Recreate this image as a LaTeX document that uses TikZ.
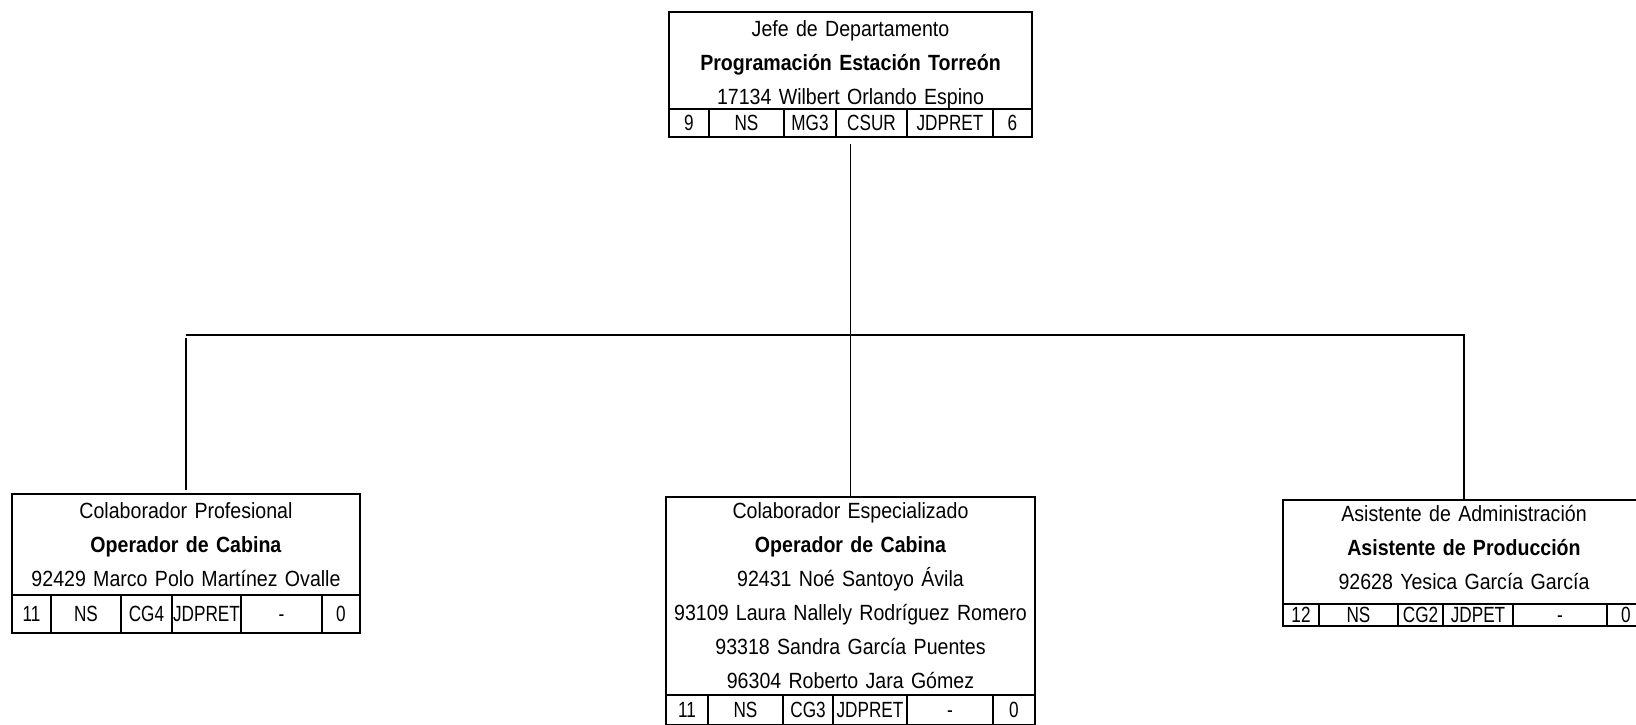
\documentclass[tikz,border=0pt]{standalone}
\usepackage{fontspec}
\setmainfont[FakeStretch=0.89]{Liberation Sans}
\newfontfamily\cellfont[FakeStretch=0.78]{Liberation Sans}
\usetikzlibrary{positioning}

\begin{document}
\begin{tikzpicture}[
  x=1pt, y=-1pt,
  font=\fontsize{22pt}{34pt}\selectfont,
  post/.style={draw,line width=1.5pt,align=center,inner sep=0pt,outer sep=0pt,anchor=north west},
  cell/.style={draw,line width=1.5pt,inner sep=0pt,outer sep=0pt,minimum height=#1,text height=16pt,text depth=2pt,font=\cellfont\fontsize{22pt}{24pt}\selectfont},
  link/.style={line width=1.6pt},
]
\useasboundingbox (0,0) rectangle (1636,724);
\clip (0,0) rectangle (1636,724);

% jefe de departamento
\node[post,text width=363pt,minimum height=97pt] (jefe) at (669,12)
  {\rule{0pt}{24pt}Jefe de Departamento\\\textbf{Programación Estación Torreón}\\17134 Wilbert Orlando Espino};
\node[cell=28pt,minimum width=40pt,below right=0pt of jefe.south west] (jefe1) {9};
\node[cell=28pt,minimum width=75pt,right=0pt of jefe1] (jefe2) {NS};
\node[cell=28pt,minimum width=52pt,right=0pt of jefe2] (jefe3) {MG3};
\node[cell=28pt,minimum width=71pt,right=0pt of jefe3] (jefe4) {CSUR};
\node[cell=28pt,minimum width=86pt,right=0pt of jefe4] (jefe5) {JDPRET};
\node[cell=28pt,minimum width=39pt,right=0pt of jefe5] (jefe6) {6};

% colaborador profesional
\node[post,text width=348pt,minimum height=101pt] (profesional) at (12,494)
  {Colaborador Profesional\\\textbf{Operador de Cabina}\\92429 Marco Polo Martínez Ovalle};
\node[cell=38pt,minimum width=39pt,below right=0pt of profesional.south west] (prof1) {11};
\node[cell=38pt,minimum width=70pt,right=0pt of prof1] (prof2) {NS};
\node[cell=38pt,minimum width=51pt,right=0pt of prof2] (prof3) {CG4};
\node[cell=38pt,minimum width=69pt,right=0pt of prof3] (prof4) {JDPRET};
\node[cell=38pt,minimum width=81pt,right=0pt of prof4] (prof5) {-};
\node[cell=38pt,minimum width=38pt,right=0pt of prof5] (prof6) {0};

% colaborador especializado
\node[post,text width=369pt,minimum height=198pt] (especializado) at (666,497)
  {Colaborador Especializado\\\textbf{Operador de Cabina}\\92431 Noé Santoyo Ávila\\93109 Laura Nallely Rodríguez Romero\\93318 Sandra García Puentes\\96304 Roberto Jara Gómez};
\node[cell=30pt,minimum width=42pt,below right=0pt of especializado.south west] (esp1) {11};
\node[cell=30pt,minimum width=75pt,right=0pt of esp1] (esp2) {NS};
\node[cell=30pt,minimum width=50pt,right=0pt of esp2] (esp3) {CG3};
\node[cell=30pt,minimum width=74pt,right=0pt of esp3] (esp4) {JDPRET};
\node[cell=30pt,minimum width=86pt,right=0pt of esp4] (esp5) {-};
\node[cell=30pt,minimum width=42pt,right=0pt of esp5] (esp6) {0};

% asistente de administracion
\node[post,text width=362pt,minimum height=104pt] (asistente) at (1283,500)
  {Asistente de Administración\\\textbf{Asistente de Producción}\\92628 Yesica García García\rule[-10pt]{0pt}{10pt}};
\node[cell=22pt,minimum width=36pt,below right=0pt of asistente.south west] (asis1) {12};
\node[cell=22pt,minimum width=79pt,right=0pt of asis1] (asis2) {NS};
\node[cell=22pt,minimum width=45pt,right=0pt of asis2] (asis3) {CG2};
\node[cell=22pt,minimum width=70pt,right=0pt of asis3] (asis4) {JDPET};
\node[cell=22pt,minimum width=94pt,right=0pt of asis4] (asis5) {-};
\node[cell=22pt,minimum width=38pt,right=0pt of asis5] (asis6) {0};

% connectors
\coordinate (bus) at (0,335);
\coordinate (jefebase) at (jefe.south |- jefe4.south);
\coordinate (busl) at (profesional.north |- bus);
\draw[link] ([yshift=-7pt]jefebase) -- (especializado.north);
\draw[link] (busl) -- (asistente.north |- bus) -- (asistente.north);
\draw[link] ([yshift=-3pt]busl) -- ([yshift=4pt]profesional.north);
\end{tikzpicture}
\end{document}
